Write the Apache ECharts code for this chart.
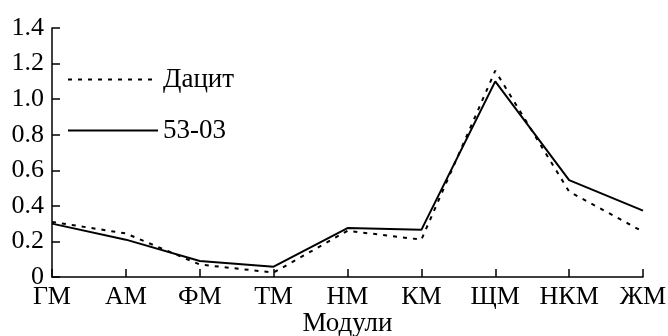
<!DOCTYPE html>
<html>
<head>
<meta charset="utf-8">
<script src="https://cdn.jsdelivr.net/npm/echarts@6/dist/echarts.min.js"></script>
<style>
  html, body { margin: 0; padding: 0; background: #fff; }
  #chart { width: 668px; height: 336px; }
</style>
</head>
<body>
<div id="chart"></div>
<script>
// модули по оси X
var categories = ['ГМ', 'АМ', 'ФМ', 'ТМ', 'НМ', 'КМ', 'ЩМ', 'НКМ', 'ЖМ'];
var dacite = [0.31, 0.245, 0.07, 0.025, 0.26, 0.21, 1.16, 0.48, 0.255];
var sample5303 = [0.30, 0.21, 0.09, 0.058, 0.275, 0.265, 1.10, 0.545, 0.373];
var yTicks = ['0', '0.2', '0.4', '0.6', '0.8', '1.0', '1.2', '1.4'];

var font = 'Liberation Serif';
var chart = echarts.init(document.getElementById('chart'));
chart.setOption({
  animation: false,
  grid: { left: 52, right: 25, top: 28, bottom: 59, outerBoundsMode: 'none' },
  legend: {
    orient: 'vertical',
    left: 62,
    top: 61,
    itemWidth: 90,
    itemHeight: 26,
    itemGap: 24,
    itemStyle: { opacity: 0 },
    textStyle: { fontFamily: font, fontSize: 27, color: '#000' },
    data: ['Дацит', '53-03']
  },
  xAxis: {
    type: 'category',
    data: categories,
    boundaryGap: false,
    name: 'Модули',
    nameLocation: 'middle',
    nameGap: 33,
    nameMoveOverlap: false,
    nameTextStyle: { fontFamily: font, fontSize: 27, color: '#000' },
    axisLine: { lineStyle: { color: '#000', width: 1.5 } },
    axisTick: { inside: true, length: 8, interval: 0, lineStyle: { color: '#000', width: 1.5 } },
    axisLabel: { fontFamily: font, fontSize: 26, color: '#000', margin: 7, interval: 0 }
  },
  yAxis: {
    type: 'value',
    min: 0,
    max: 1.4,
    interval: 0.2,
    splitLine: { show: false },
    axisLine: { show: true, lineStyle: { color: '#000', width: 1.5 } },
    axisTick: { show: true, inside: true, length: 8, lineStyle: { color: '#000', width: 1.5 } },
    axisLabel: {
      fontFamily: font, fontSize: 26, color: '#000', margin: 8,
      formatter: function (v) { return yTicks[Math.round(v / 0.2)]; }
    }
  },
  series: [
    {
      name: 'Дацит',
      type: 'line',
      data: dacite,
      symbol: 'none',
      lineStyle: { color: '#000', width: 2, type: [4, 6] },
      itemStyle: { color: '#000' }
    },
    {
      name: '53-03',
      type: 'line',
      data: sample5303,
      symbol: 'none',
      lineStyle: { color: '#000', width: 2 },
      itemStyle: { color: '#000' }
    }
  ]
});
</script>
</body>
</html>
